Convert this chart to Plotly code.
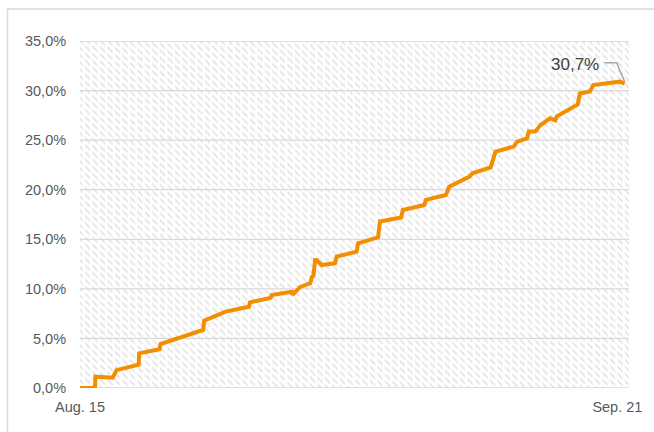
import plotly.graph_objects as go

# Data (x = days since Aug. 15, y = cumulative share)
days = [0, 1.03, 1.06, 2.26, 2.51, 3.76, 4.04, 4.07, 4.56, 5.47, 5.54, 8.21, 8.48, 8.55,
        10.03, 11.63, 11.70, 13.00, 13.13, 13.20, 14.59, 14.64, 15.16, 15.85, 15.96,
        16.07, 16.19, 16.28, 16.64, 17.56, 17.67, 19.04, 19.15, 20.52, 20.66, 22.11,
        22.23, 23.71, 23.82, 25.19, 25.42, 26.79, 27.02, 28.27, 28.61, 29.87, 30.10,
        30.78, 30.90, 31.35, 31.69, 32.37, 32.72, 32.83, 33.97, 34.27, 34.42, 35.11,
        35.34, 37.16, 37.50]
share_pct = [0, 0, 1.14, 1.04, 1.8, 2.25, 2.35, 3.5, 3.66, 3.9, 4.44, 5.75, 5.85, 6.8,
             7.7, 8.2, 8.64, 9.05, 9.1, 9.38, 9.7, 9.4, 10.2, 10.56, 11.2,
             11.3, 12.9, 12.9, 12.4, 12.58, 13.25, 13.75, 14.6, 15.2, 16.8, 17.2,
             17.96, 18.46, 18.97, 19.47, 20.3, 21.3, 21.66, 22.26, 23.84, 24.35, 24.85,
             25.18, 25.86, 25.86, 26.5, 27.2, 27.0, 27.4, 28.4, 28.6, 29.7, 29.9,
             30.56, 30.9, 30.7]
share = [v / 100 for v in share_pct]

tick_days = [0, 37]
tick_labels = ["Aug. 15", "Sep. 21"]
y_ticks = [0, 0.05, 0.10, 0.15, 0.20, 0.25, 0.30, 0.35]

X_END = 37.8
Y_TOP = 0.35

ORANGE = "#F28E00"
GRID = "#d9d9d9"
TEXT = "#595959"
FONT = "Liberation Sans, Arial, sans-serif"

fig = go.Figure()

# hatched plot-area background
fig.add_trace(go.Scatter(
    x=[0, X_END, X_END, 0, 0], y=[0, 0, Y_TOP, Y_TOP, 0],
    fill="toself", mode="none", fillcolor="rgba(0,0,0,0)",
    fillpattern=dict(shape="\\", fgcolor="#cbcbcb", size=5, solidity=0.35),
    hoverinfo="skip", showlegend=False))
fig.add_trace(go.Scatter(
    x=[0, X_END, X_END, 0, 0], y=[0, 0, Y_TOP, Y_TOP, 0],
    fill="toself", mode="none", fillcolor="rgba(255,255,255,0)",
    fillpattern=dict(shape="|", fgcolor="#ffffff", bgcolor="rgba(255,255,255,0)",
                     fgopacity=1, size=7.5, solidity=0.3),
    hoverinfo="skip", showlegend=False))

# horizontal gridlines drawn above the hatch (built from the y ticks)
grid_x, grid_y = [], []
for t in y_ticks:
    grid_x += [0, X_END, None]
    grid_y += [t, t, None]
fig.add_trace(go.Scatter(
    x=grid_x, y=grid_y, mode="lines",
    line=dict(color=GRID, width=1.3),
    hoverinfo="skip", showlegend=False))

fig.add_trace(go.Scatter(
    x=days, y=share, mode="lines",
    line=dict(color=ORANGE, width=4),
    hoverinfo="skip", showlegend=False))

last_x, last_y = days[-1], share[-1]
fig.add_annotation(
    x=last_x, y=last_y, xref="x", yref="y",
    text=f"{share_pct[-1]:.1f}%".replace(".", ","),
    showarrow=False, xanchor="right", yanchor="middle",
    xshift=-24, yshift=19,
    font=dict(family=FONT, size=17, color="#404040"))
fig.add_shape(
    type="path", xref="x", yref="y", xsizemode="pixel", ysizemode="pixel",
    xanchor=last_x, yanchor=last_y,
    path="M -20,21 L -8,21 L 0,2",
    line=dict(color="#a6a6a6", width=1.5))

# outer chart frame (partially cropped)
fig.add_shape(type="rect", xref="paper", yref="paper",
              x0=-0.132, x1=1.1, y0=-0.2, y1=1.092,
              line=dict(color=GRID, width=1.5), layer="below")

fig.update_layout(
    width=654, height=432,
    margin=dict(l=80, r=21, t=41, b=44),
    paper_bgcolor="white", plot_bgcolor="white",
    separators=",.",
    font=dict(family=FONT, size=14.5, color=TEXT),
    hovermode=False,
)
fig.update_xaxes(
    range=[0, X_END], tickvals=tick_days, ticktext=tick_labels,
    showgrid=False, zeroline=False, showline=False,
    ticks="outside", ticklen=6, tickcolor="rgba(0,0,0,0)",
    tickfont=dict(family=FONT, size=14.5, color=TEXT))
fig.update_yaxes(
    range=[0, Y_TOP], tickvals=y_ticks, tickformat=".1%",
    showgrid=False, zeroline=False,
    showline=False, ticks="outside", ticklen=10, tickcolor="rgba(0,0,0,0)",
    tickfont=dict(family=FONT, size=14.5, color=TEXT))

fig.write_html("out.html", config={"displayModeBar": False},
               post_script="document.body.style.margin='0';")
